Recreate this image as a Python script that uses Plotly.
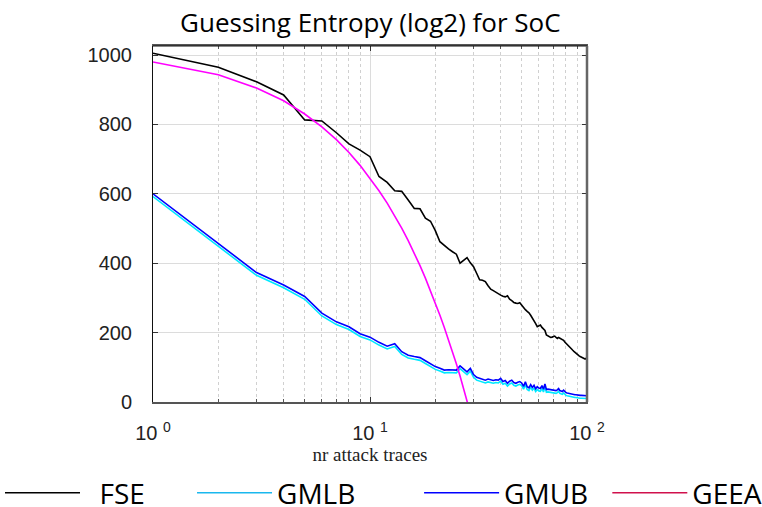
import plotly.graph_objects as go

n_traces = list(range(1, 101))

fse = [1005, 965, 923, 885, 813, 810, 776, 744, 726, 707,
       650, 633, 609, 607, 582, 558, 557, 530, 521, 494,
       462, 450, 441, 433, 426, 400, 407, 416, 401, 390,
       371, 352, 351, 347, 335, 325, 321, 316, 312, 308,
       305, 303, 306, 296, 292, 287, 285, 284, 286, 278,
       271, 266, 261, 257, 250, 243, 236, 226, 217, 220,
       222, 215, 210, 206, 193, 190, 188, 186, 187, 189,
       190, 186, 183, 186, 184, 182, 180, 178, 173, 169,
       165, 162, 158, 155, 152, 149, 146, 143, 140, 136,
       134, 133, 131, 130, 129, 127, 125, 124, 126, 128]

gmub = [600, 457, 373, 337, 304, 256, 231, 217, 197, 187,
        172, 161, 168, 145, 135, 131, 128, 119, 110, 102,
        97, 92, 93, 92, 92, 104, 95, 87, 97, 79,
        71, 68, 65, 63, 66, 63, 62, 64, 63, 68,
        59, 62, 54, 60, 63, 56, 54, 57, 59, 55,
        45, 58, 44, 41, 50, 42, 48, 38, 44, 40,
        39, 47, 37, 52, 36, 37, 36, 35, 34, 35,
        32, 33, 35, 39, 33, 31, 30, 34, 29, 27,
        26, 25, 25, 24, 24, 22, 22, 21, 21, 20,
        20, 20, 19, 19, 19, 18, 18, 18, 18, 18]

gmlb = [592, 449, 365, 329, 296, 248, 223, 209, 189, 179,
        164, 153, 160, 137, 127, 123, 120, 111, 102, 94,
        89, 84, 85, 84, 84, 96, 87, 79, 89, 71,
        63, 60, 57, 55, 58, 55, 54, 56, 55, 60,
        51, 54, 46, 52, 55, 48, 46, 49, 51, 47,
        37, 50, 36, 33, 42, 34, 40, 30, 36, 32,
        31, 39, 29, 44, 28, 29, 28, 27, 26, 27,
        24, 25, 27, 31, 25, 23, 22, 26, 21, 19,
        18, 17, 17, 16, 16, 14, 14, 13, 13, 12,
        12, 12, 11, 11, 11, 10, 10, 10, 10, 10]

geea_n = list(range(1, 31))
geea = [980, 943, 905, 868, 830, 793, 756, 719, 682, 645,
        609, 573, 537, 501, 465, 429, 393, 357, 321, 285,
        250, 215, 180, 145, 110, 75, 40, 5, -30, -65]

series_names = ["FSE", "GMLB", "GMUB", "GEEA"]
legend_labels = ["\u00a0\u00a0FSE", "GMLB", "GMUB", "GEEA"]
plot_colors = ["#000000", "#00e8ff", "#0000ff", "#ff00ff"]
legend_colors = ["#000000", "#1ab8ee", "#0000ff", "#d0104c"]

x_ticks = [1, 10, 100]
x_ticktext = ["10 <sup>0</sup>", "10 <sup>1</sup>", "10 <sup>2</sup>"]
x_minor = [2, 3, 4, 5, 6, 7, 8, 9, 20, 30, 40, 50, 60, 70, 80, 90]
y_ticks = [0, 200, 400, 600, 800, 1000]

fig = go.Figure()
data = [(n_traces, fse), (n_traces, gmlb), (n_traces, gmub), (geea_n, geea)]
for (xs, ys), c, nm in zip(data, plot_colors, series_names):
    fig.add_trace(go.Scatter(x=xs, y=ys, mode="lines", name=nm,
                             line=dict(color=c, width=1.6),
                             showlegend=False, hoverinfo="skip"))

# legend positions in container fraction (left edge of each legend box)
legend_x = [0.0, 0.252, 0.55, 0.797]
for i, (label, c) in enumerate(zip(legend_labels, legend_colors)):
    lg = "legend" if i == 0 else f"legend{i+1}"
    fig.add_trace(go.Scatter(x=[None], y=[None], mode="lines", name=label,
                             line=dict(color=c, width=1.6), legend=lg))

legend_common = dict(orientation="h", yanchor="middle", y=1 - 493 / 507,
                     xanchor="left", xref="container", yref="container",
                     font=dict(family="Open Sans", size=28, color="#000"),
                     itemwidth=75, bgcolor="rgba(0,0,0,0)")

layout_legends = {}
for i in range(4):
    key = "legend" if i == 0 else f"legend{i+1}"
    layout_legends[key] = dict(legend_common, x=legend_x[i])

fig.update_layout(
    width=762, height=507,
    margin=dict(l=153, r=175, t=46, b=105, autoexpand=False),
    paper_bgcolor="white", plot_bgcolor="white",
    title=dict(text="Guessing Entropy (log2) for SoC", x=0.486, xanchor="center",
               y=0.955, yanchor="middle",
               font=dict(family="Open Sans", size=26, color="#000")),
    xaxis=dict(type="log", range=[0, 2], tickvals=x_ticks, ticktext=x_ticktext,
               tickfont=dict(family="Liberation Sans", size=20, color="#222"),
               ticklabelstandoff=12,
               showline=True, linecolor="#555", linewidth=2, mirror="ticks",
               ticks="inside", ticklen=5, tickcolor="#333",
               showgrid=True, gridcolor="#dcdcdc", gridwidth=1,
               minor=dict(tickvals=x_minor, ticks="inside", ticklen=3, tickcolor="#555",
                          showgrid=True, gridcolor="#d0d0d0", griddash="dot", gridwidth=1),
               title=dict(text="nr attack traces", standoff=4,
                          font=dict(family="Liberation Serif", size=19, color="#222")),
               zeroline=False),
    yaxis=dict(range=[0, 1026], tickvals=y_ticks,
               tickfont=dict(family="Liberation Sans", size=20, color="#222"),
               ticklabelstandoff=16,
               showline=True, linecolor="#111", linewidth=1, mirror="ticks",
               ticks="inside", ticklen=5, tickcolor="#333",
               showgrid=True, gridcolor="#dcdcdc", gridwidth=1, zeroline=False),
    shapes=[
        dict(type="line", xref="paper", yref="paper", x0=0, x1=1, y0=1, y1=1,
             line=dict(color="#111", width=1), layer="above"),
        dict(type="line", xref="paper", yref="paper", x0=1, x1=1, y0=0, y1=1,
             line=dict(color="#666", width=2.5), layer="above"),
    ],
    **layout_legends,
)

fig.write_html("out.html")
